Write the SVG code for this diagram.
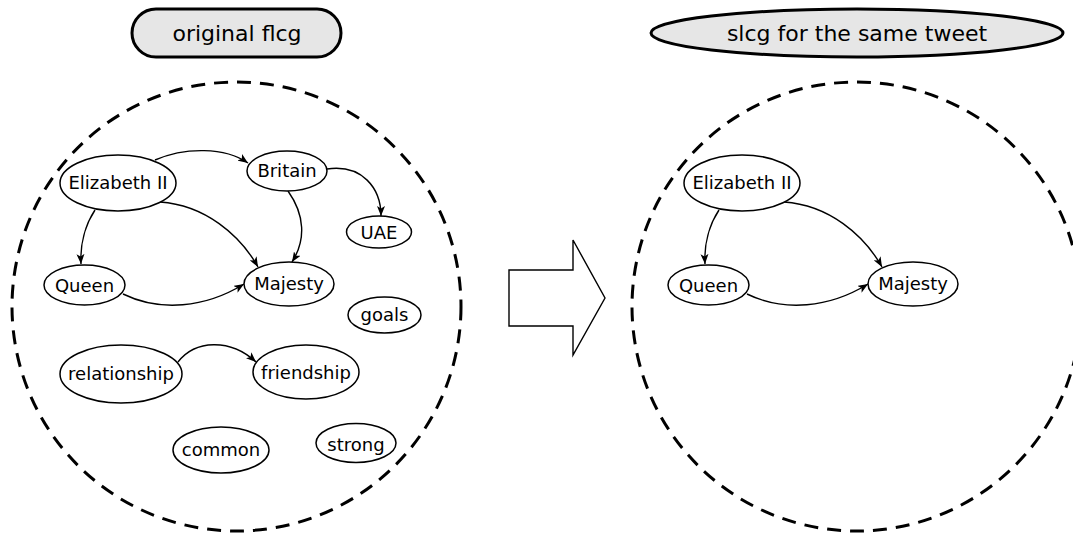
<svg xmlns="http://www.w3.org/2000/svg" width="1073" height="536" viewBox="0 0 1073 536">
<style>
  .node ellipse { fill: #ffffff; stroke: #000000; stroke-width: 1.5; }
  .node text { font-family: "DejaVu Sans", "Liberation Sans", sans-serif; font-size: 18px; fill: #000000; text-anchor: middle; }
  .title text { font-family: "DejaVu Sans", "Liberation Sans", sans-serif; font-size: 22px; fill: #000000; text-anchor: middle; }
  .title rect, .title ellipse { fill: #e6e6e6; stroke: #000000; stroke-width: 3; }
  .edge { fill: none; stroke: #000000; stroke-width: 1.4; marker-end: url(#arr); }
  .region { fill: none; stroke: #000000; stroke-width: 3; stroke-dasharray: 14 9; }
</style>
<defs>
  <marker id="arr" viewBox="0 0 10 8" refX="10" refY="4" markerWidth="10" markerHeight="8" markerUnits="userSpaceOnUse" orient="auto">
    <path d="M0,0 L10,4 L0,8 L2.5,4 z" fill="#000000"/>
  </marker>
</defs>

<rect width="1073" height="536" fill="#ffffff"/>

<g id="title-left" class="title">
  <rect x="132" y="9" width="209" height="48" rx="24" ry="24"/>
  <text x="237" y="41">original flcg</text>
</g>
<g id="title-right" class="title">
  <ellipse cx="857" cy="33" rx="206" ry="24"/>
  <text x="857" y="41">slcg for the same tweet</text>
</g>

<g id="regions">
  <circle id="region-left" class="region" cx="236.5" cy="306.5" r="224.5"/>
  <circle id="region-right" class="region" cx="856.5" cy="306.5" r="224.5"/>
</g>

<g id="transform-arrow">
  <polygon points="509,270 573,270 573,240 605,298 573,355 573,326 509,326" fill="#ffffff" stroke="#000000" stroke-width="1.4"/>
</g>

<g id="connectors">
  <path class="edge" d="M155,160 C185,147 225,147 248,163"/>
  <path class="edge" d="M327,169 C362,164 381,188 381,216"/>
  <path class="edge" d="M288,191 C305,215 306,240 292,262"/>
  <path class="edge" d="M160,202 C205,205 240,235 258,267"/>
  <path class="edge" d="M95,210 C85,225 80,245 81,264"/>
  <path class="edge" d="M123,294 C160,312 205,308 244,284"/>
  <path class="edge" d="M178,362 C195,340 230,338 256,362"/>

  <path class="edge" d="M719,210 C709,225 704,245 705,264"/>
  <path class="edge" d="M784,202 C829,205 864,235 882,267"/>
  <path class="edge" d="M747,294 C784,312 829,308 868,284"/>
</g>

<g id="node-elizabeth-l" class="node"><ellipse cx="118" cy="183" rx="58" ry="28"/><text x="118" y="189">Elizabeth II</text></g>
<g id="node-britain-l" class="node"><ellipse cx="287" cy="171" rx="40" ry="20"/><text x="287" y="177">Britain</text></g>
<g id="node-uae-l" class="node"><ellipse cx="379" cy="232" rx="32.5" ry="16"/><text x="379" y="239">UAE</text></g>
<g id="node-queen-l" class="node"><ellipse cx="84.5" cy="285" rx="40.5" ry="20"/><text x="84.5" y="291.5">Queen</text></g>
<g id="node-majesty-l" class="node"><ellipse cx="289" cy="284" rx="45" ry="22"/><text x="289" y="289.5">Majesty</text></g>
<g id="node-goals-l" class="node"><ellipse cx="384.5" cy="315" rx="36.5" ry="18"/><text x="384.5" y="320.5">goals</text></g>
<g id="node-relationship-l" class="node"><ellipse cx="121" cy="374" rx="61" ry="29"/><text x="121" y="380">relationship</text></g>
<g id="node-friendship-l" class="node"><ellipse cx="306" cy="372" rx="53" ry="27"/><text x="306" y="379">friendship</text></g>
<g id="node-common-l" class="node"><ellipse cx="221" cy="450" rx="48" ry="23"/><text x="221" y="455.5">common</text></g>
<g id="node-strong-l" class="node"><ellipse cx="356" cy="443" rx="40" ry="19.5"/><text x="356" y="450.5">strong</text></g>

<g id="node-elizabeth-r" class="node"><ellipse cx="742" cy="183" rx="58" ry="28"/><text x="742" y="189">Elizabeth II</text></g>
<g id="node-queen-r" class="node"><ellipse cx="708.5" cy="285" rx="40.5" ry="20"/><text x="708.5" y="291.5">Queen</text></g>
<g id="node-majesty-r" class="node"><ellipse cx="913" cy="284" rx="45" ry="22"/><text x="913" y="289.5">Majesty</text></g>
</svg>
